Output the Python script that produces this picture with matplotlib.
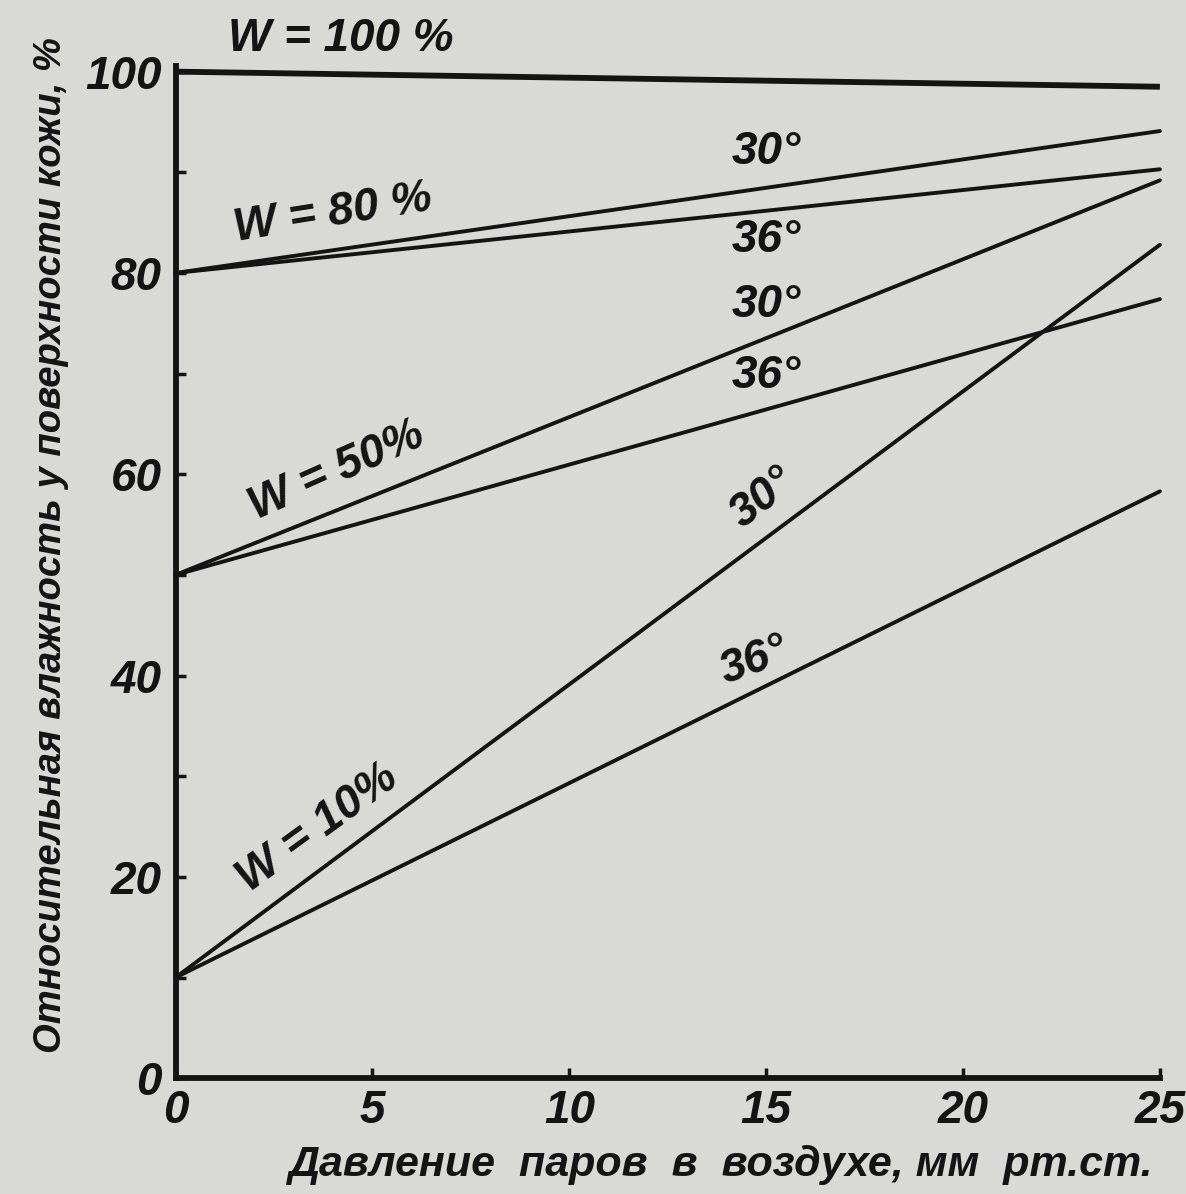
import numpy as np
import matplotlib.pyplot as plt

plt.rcParams['font.family'] = ['Liberation Sans Narrow', 'Liberation Sans', 'DejaVu Sans']
plt.rcParams['font.style'] = 'italic'
plt.rcParams['font.weight'] = 'bold'

# vapour pressure in air, mm Hg
x_ends = [0, 25]

# relative humidity at skin surface, % (start at 0, end at 25)
w100 = [100, 98.5]
w80_30 = [80, 94.1]
w80_36 = [80, 90.3]
w50_30 = [50, 89.2]
w50_36 = [50, 77.4]
w10_30 = [10, 82.8]
w10_36 = [10, 58.3]

x_ticks = [0, 5, 10, 15, 20, 25]
y_ticks = [0, 20, 40, 60, 80, 100]
y_minor = [10, 30, 50, 70, 90]

bg = '#d9d9d6'
ink = '#141414'

fig = plt.figure(figsize=(11.86, 11.94), dpi=100, facecolor=bg)
ax = fig.add_axes([0.148, 0.097, 0.83, 0.843], facecolor=bg)

ax.plot(x_ends, w100, color=ink, lw=4.2, clip_on=False, solid_capstyle='butt')
for ys in [w80_30, w80_36, w50_30, w50_36, w10_30, w10_36]:
    ax.plot(x_ends, ys, color=ink, lw=2.8, clip_on=False, solid_capstyle='round')

ax.set_xlim(0, 25)
ax.set_ylim(0, 100)
for s in ['top', 'right']:
    ax.spines[s].set_visible(False)
for s in ['left', 'bottom']:
    ax.spines[s].set_linewidth(4.2)
    ax.spines[s].set_color(ink)
ax.spines['left'].set_bounds(0, 100.6)

ax.set_xticks(x_ticks)
ax.set_yticks(y_ticks)
ax.set_yticks(y_minor, minor=True)
ax.tick_params(axis='both', which='both', direction='in', length=7, width=2.5,
               color=ink, labelsize=33, labelcolor=ink)
ax.tick_params(axis='x', pad=8)
ax.tick_params(axis='y', pad=10)

ax.set_xlabel('Давление  паров  в  воздухе, мм  рт.ст.', fontsize=31,
              color=ink, fontweight='bold')
ax.xaxis.set_label_coords(0.553, -0.066)
ax.set_ylabel('Относительная влажность у поверхности кожи, %', fontsize=27.5,
              color=ink, fontweight='bold')
ax.yaxis.set_label_coords(-0.108, 0.53)

lab = dict(fontsize=33, color=ink, ha='center', va='center', clip_on=False)
ax.text(4.2, 103.2, 'W = 100 %', **lab)
ax.text(4.0, 85.9, 'W = 80 %', rotation=9, **lab)
ax.text(15.0, 92.0, '30°', **lab)
ax.text(15.0, 83.3, '36°', **lab)
ax.text(15.0, 76.8, '30°', **lab)
ax.text(15.0, 69.8, '36°', **lab)
ax.text(4.1, 60.3, 'W = 50%', rotation=24, **lab)
ax.text(14.9, 57.6, '30°', rotation=38, **lab)
ax.text(14.7, 41.5, '36°', rotation=20, **lab)
ax.text(3.6, 24.8, 'W = 10%', rotation=36, **lab)

fig.savefig('out.png', dpi=100, facecolor=bg)
